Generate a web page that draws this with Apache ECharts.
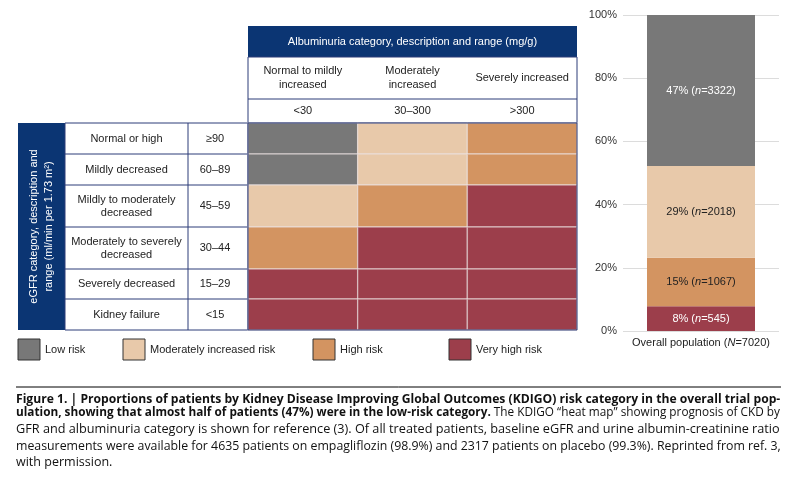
<!DOCTYPE html>
<html><head><meta charset="utf-8">
<script src="https://cdn.jsdelivr.net/npm/echarts@6/dist/echarts.min.js"></script>
<style>html,body{margin:0;padding:0;background:#fff}#c{width:796px;height:481px}</style>
</head><body><div id="c"></div>
<script>
// ---------- DATA ----------
const albCategories = ['Normal to mildly\nincreased', 'Moderately\nincreased', 'Severely increased'];
const albRanges = ['<30', '30–300', '>300'];
const egfrCategories = ['Normal or high', 'Mildly decreased', 'Mildly to moderately\ndecreased', 'Moderately to severely\ndecreased', 'Severely decreased', 'Kidney failure'];
const egfrRanges = ['≥90', '60–89', '45–59', '30–44', '15–29', '<15'];
// risk index per eGFR row (0 low .. 3 very high), columns = albuminuria categories
const heatRisk = [
  [0, 1, 2],
  [0, 1, 2],
  [1, 2, 3],
  [2, 3, 3],
  [3, 3, 3],
  [3, 3, 3]
];
const riskNames = ['Low risk', 'Moderately increased risk', 'High risk', 'Very high risk'];
const riskPctLabels = [47, 29, 15, 8];
const riskCounts = [3322, 2018, 1067, 545];
const riskBarPct = [47.8, 29.0, 15.4, 7.8];
const barCategory = ['Overall population'];
const totalN = 7020;
const yTicks = [0, 20, 40, 60, 80, 100];

// ---------- LAYOUT / STYLE ----------
const riskColors = ['#787878', '#e8c9aa', '#d39461', '#9c3e4b'];
const navy = '#0b3573';
const lineNavy = '#2c3d78';
const rowHeights = [31, 31, 42, 42, 30, 31];
const heat = { left: 248, top: 123, width: 329 };
const heatH = rowHeights.reduce((a, b) => a + b, 0);
const rowStart = []; rowHeights.reduce((acc, h, i) => { rowStart[i] = acc; return acc + h; }, 0);
const FONT = 'Liberation Sans, Arial, sans-serif';
const colW = heat.width / 3;

const cells = [];
heatRisk.forEach((row, r) => row.forEach((risk, c) => cells.push([c, r, risk])));

const graphics = [];
// Header
graphics.push({ type: 'rect', shape: { x: heat.left, y: 26, width: heat.width, height: 31 }, style: { fill: navy } });
graphics.push({ type: 'text', x: heat.left + heat.width / 2, y: 42, style: { text: 'Albuminuria category, description and range (mg/g)', fill: '#fff', font: '11px ' + FONT, align: 'center', verticalAlign: 'middle' } });
graphics.push({ type: 'rect', shape: { x: heat.left, y: 57, width: heat.width, height: 66 }, style: { fill: 'none', stroke: lineNavy, lineWidth: 1 } });
graphics.push({ type: 'line', shape: { x1: heat.left, y1: 99, x2: heat.left + heat.width, y2: 99 }, style: { stroke: lineNavy, lineWidth: 1 } });
albCategories.forEach((t, i) => {
  graphics.push({ type: 'text', x: heat.left + colW * (i + 0.5), y: 78, style: { text: t, fill: '#222', font: '11px ' + FONT, align: 'center', verticalAlign: 'middle', lineHeight: 14 } });
  graphics.push({ type: 'text', x: heat.left + colW * (i + 0.5), y: 111, style: { text: albRanges[i], fill: '#222', font: '11px ' + FONT, align: 'center', verticalAlign: 'middle' } });
});
// Left table
graphics.push({ type: 'rect', shape: { x: 18, y: heat.top, width: 47, height: heatH }, style: { fill: navy } });
graphics.push({ type: 'text', x: 41, y: heat.top + heatH / 2, rotation: Math.PI / 2, style: { text: 'eGFR category, description and\nrange (ml/min per 1.73 m²)', fill: '#fff', font: '11px ' + FONT, align: 'center', verticalAlign: 'middle', lineHeight: 15 } });
graphics.push({ type: 'rect', shape: { x: 65, y: heat.top, width: heat.left - 65, height: heatH }, style: { fill: 'none', stroke: lineNavy, lineWidth: 1 } });
graphics.push({ type: 'line', shape: { x1: 188, y1: heat.top, x2: 188, y2: heat.top + heatH }, style: { stroke: lineNavy, lineWidth: 1 } });
egfrCategories.forEach((t, i) => {
  const yc = heat.top + rowStart[i] + rowHeights[i] / 2;
  if (i > 0) graphics.push({ type: 'line', shape: { x1: 65, y1: heat.top + rowStart[i], x2: heat.left, y2: heat.top + rowStart[i] }, style: { stroke: lineNavy, lineWidth: 1 } });
  graphics.push({ type: 'text', x: 126.5, y: yc, style: { text: t, fill: '#222', font: '11px ' + FONT, align: 'center', verticalAlign: 'middle', lineHeight: 13 } });
  graphics.push({ type: 'text', x: 215, y: yc, style: { text: egfrRanges[i], fill: '#222', font: '11px ' + FONT, align: 'center', verticalAlign: 'middle' } });
});
// heat outer border
graphics.push({ type: 'rect', z: 100, shape: { x: heat.left, y: heat.top, width: heat.width, height: heatH }, style: { fill: 'none', stroke: lineNavy, lineWidth: 1 } });
// Legend
const legendX = [18, 123, 313, 449];
riskNames.forEach((n, i) => {
  graphics.push({ type: 'rect', shape: { x: legendX[i], y: 339, width: 22, height: 21 }, style: { fill: riskColors[i], stroke: '#333', lineWidth: 1 } });
  graphics.push({ type: 'text', x: legendX[i] + 27, y: 350, style: { text: n, fill: '#222', font: '11px ' + FONT, verticalAlign: 'middle' } });
});

// Caption (font size fitted so each justified line spans the column width)
const CF = '"Open Sans", Lato, sans-serif';
const capLeft = 16, capWidth = 765;
const mctx = document.createElement('canvas').getContext('2d');
function fit(parts) {
  let w = 0;
  parts.forEach(p => { mctx.font = p[1] + ' 100px ' + CF; w += mctx.measureText(p[0]).width; });
  return 100 * capWidth / w;
}
const cap1 = 'Figure 1. | Proportions of patients by Kidney Disease Improving Global Outcomes (KDIGO) risk category in the overall trial pop-';
const cap2b = 'ulation, showing that almost half of patients (47%) were in the low-risk category.';
const cap2r = ' The KDIGO “heat map” showing prognosis of CKD by';
const cap3 = 'GFR and albuminuria category is shown for reference (3). Of all treated patients, baseline eGFR and urine albumin-creatinine ratio';
const cap4 = 'measurements were available for 4635 patients on empagliflozin (98.9%) and 2317 patients on placebo (99.3%). Reprinted from ref. 3,';
const cap5 = 'with permission.';
const s1 = fit([[cap1, 'bold']]);
const s2 = fit([[cap2b, 'bold'], [cap2r, 'normal']]);
const s3 = fit([[cap3, 'normal']]);
const s4 = fit([[cap4, 'normal']]);
const s5 = (s3 + s4) / 2;
graphics.push({ type: 'line', shape: { x1: 16, y1: 387, x2: 781, y2: 387 }, style: { stroke: '#000', lineWidth: 1 } });
graphics.push({ type: 'text', x: capLeft, y: 400, style: { text: cap1, fill: '#111', font: 'bold ' + s1 + 'px ' + CF, verticalAlign: 'middle' } });
graphics.push({ type: 'text', x: capLeft, y: 413, style: { text: '{b|' + cap2b + '}{r|' + cap2r + '}', verticalAlign: 'middle', rich: { b: { font: 'bold ' + s2 + 'px ' + CF, fill: '#111' }, r: { font: s2 + 'px ' + CF, fill: '#111' } } } });
graphics.push({ type: 'text', x: capLeft, y: 429, style: { text: cap3, fill: '#111', font: s3 + 'px ' + CF, verticalAlign: 'middle' } });
graphics.push({ type: 'text', x: capLeft, y: 446, style: { text: cap4, fill: '#111', font: s4 + 'px ' + CF, verticalAlign: 'middle' } });
graphics.push({ type: 'text', x: capLeft, y: 462, style: { text: cap5, fill: '#111', font: s5 + 'px ' + CF, verticalAlign: 'middle' } });

// Bar series (stacked bottom -> top: very high, high, moderate, low)
const stackOrder = [3, 2, 1, 0];
const barSeries = stackOrder.map(k => ({
  type: 'bar', name: riskNames[k], stack: 'all', xAxisIndex: 1, yAxisIndex: 1,
  barWidth: 108, data: [riskBarPct[k]],
  itemStyle: { color: riskColors[k] },
  label: {
    show: true, position: 'inside',
    formatter: () => '{t|' + riskPctLabels[k] + '% (}{i|n}{t|=' + riskCounts[k] + ')}',
    rich: {
      t: { fontSize: 11, fontFamily: FONT, color: (k === 0 || k === 3) ? '#fff' : '#222' },
      i: { fontSize: 11, fontFamily: FONT, fontStyle: 'italic', color: (k === 0 || k === 3) ? '#fff' : '#222' }
    }
  }
}));

const chart = echarts.init(document.getElementById('c'), null, { renderer: 'canvas' });
chart.setOption({
  animation: false,
  backgroundColor: '#fff',
  grid: [
    { left: heat.left, top: heat.top, width: heat.width, height: heatH },
    { left: 623, top: 15, width: 156, height: 316 }
  ],
  xAxis: [
    { gridIndex: 0, type: 'category', data: albRanges, show: false },
    { gridIndex: 1, type: 'category', data: barCategory, axisLine: { show: false }, axisTick: { show: false },
      axisLabel: { margin: 6, formatter: v => '{t|' + v + ' (}{i|N}{t|=' + totalN + ')}',
        rich: { t: { fontSize: 11, fontFamily: FONT, color: '#222' }, i: { fontSize: 11, fontFamily: FONT, fontStyle: 'italic', color: '#222' } } } }
  ],
  yAxis: [
    { gridIndex: 0, type: 'value', min: 0, max: heatH, inverse: true, show: false },
    { gridIndex: 1, type: 'value', min: yTicks[0], max: yTicks[yTicks.length - 1], interval: 20,
      axisLine: { show: false }, axisTick: { show: false },
      axisLabel: { formatter: '{value}%', fontSize: 11, fontFamily: FONT, color: '#333', margin: 6 },
      splitLine: { lineStyle: { color: '#dcdcdc', width: 1 } } }
  ],
  series: [
    {
      type: 'custom', xAxisIndex: 0, yAxisIndex: 0, data: cells,
      renderItem: (params, api) => {
        const c = api.value(0), r = api.value(1), risk = api.value(2);
        const w = api.size([1, 0])[0];
        const cx = api.coord([c, 0])[0];
        const y0 = api.coord([c, rowStart[r]])[1];
        const y1 = api.coord([c, rowStart[r] + rowHeights[r]])[1];
        return { type: 'rect', shape: { x: cx - w / 2, y: y0, width: w, height: y1 - y0 },
          style: { fill: riskColors[risk], stroke: 'rgba(235,225,225,0.55)', lineWidth: 1.4 } };
      }
    },
    ...barSeries
  ],
  graphic: graphics
});
</script></body></html>
